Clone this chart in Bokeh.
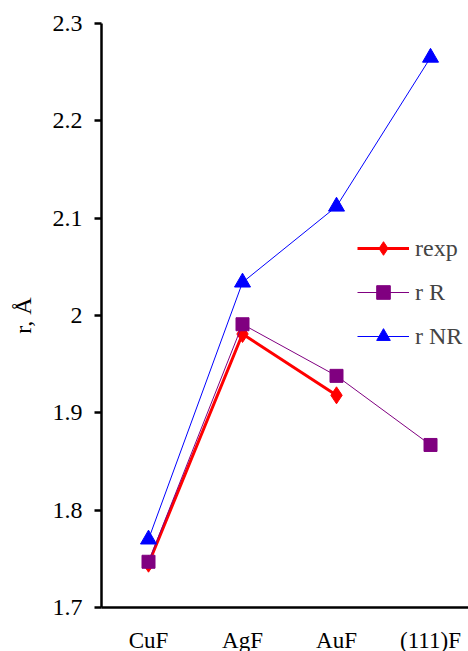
import math
from bokeh.plotting import figure
from bokeh.models import FixedTicker, Range1d, Legend
from bokeh.embed import file_html
from bokeh.resources import INLINE

categories = ["CuF", "AgF", "AuF", "(111)F"]
r_exp = [1.745, 1.981, 1.918]
r_R = [1.747, 1.991, 1.938, 1.867]
r_NR = [1.770, 2.034, 2.112, 2.265]
y_ticks = [1.7, 1.8, 1.9, 2.0, 2.1, 2.2, 2.3]
y_tick_labels = ["1.7", "1.8", "1.9", "2", "2.1", "2.2", "2.3"]

FONT = "Liberation Serif"

p = figure(width=468, height=651, output_backend="svg", toolbar_location=None,
           x_range=Range1d(-0.5, 3.404), y_range=Range1d(1.7, 2.3),
           min_border_left=101, min_border_right=0, min_border_top=23, min_border_bottom=44)
p.frame_width = 367
p.frame_height = 584
p.outline_line_color = None
p.grid.visible = False
p.background_fill_color = "white"
p.border_fill_color = "white"

xs = list(range(len(categories)))

l1 = p.line(xs[:len(r_exp)], r_exp, line_color="#FF0000", line_width=3)
s1 = p.scatter(xs[:len(r_exp)], r_exp, marker="diamond", size=17, color="#FF0000")
l2 = p.line(xs, r_R, line_color="#800080", line_width=1)
s2 = p.scatter(xs, r_R, marker="square", size=13, color="#800080")
l3 = p.line(xs, r_NR, line_color="#0000FF", line_width=1)
s3 = p.scatter(xs, r_NR, marker="triangle", size=16, color="#0000FF")

legend = Legend(items=[("rexp", [l1, s1]), ("r R", [l2, s2]), ("r NR", [l3, s3])],
                location=(256, 254), padding=0, margin=0, spacing=10,
                glyph_width=52, glyph_height=34, label_height=22, label_standoff=6,
                label_text_font=FONT, label_text_font_size="24px",
                border_line_color=None, background_fill_alpha=0)
p.add_layout(legend)

xa = p.xaxis[0]
xa.ticker = FixedTicker(ticks=xs)
xa.major_label_overrides = {i: c for i, c in enumerate(categories)}
xa.major_tick_line_color = None
xa.minor_tick_line_color = None
xa.axis_line_width = 2.5
xa.axis_line_color = "black"
xa.major_label_text_font = FONT
xa.major_label_text_font_size = "23px"
xa.major_label_text_color = "black"
xa.major_label_standoff = 14

ya = p.yaxis[0]
ya.ticker = FixedTicker(ticks=y_ticks)
ya.major_label_overrides = {t: l for t, l in zip(y_ticks, y_tick_labels)}
ya.major_tick_out = 7
ya.major_tick_in = 0
ya.major_tick_line_width = 2.5
ya.minor_tick_line_color = None
ya.axis_line_width = 2.5
ya.axis_line_color = "black"
ya.major_label_text_font = FONT
ya.major_label_text_font_size = "24px"
ya.major_label_text_color = "black"
ya.major_label_standoff = 12
ya.axis_label = "r, Å"
ya.axis_label_text_font = FONT
ya.axis_label_text_font_size = "24px"
ya.axis_label_text_font_style = "normal"
ya.axis_label_text_color = "black"
ya.axis_label_standoff = 14

open("out.html", "w").write(file_html(p, INLINE))
